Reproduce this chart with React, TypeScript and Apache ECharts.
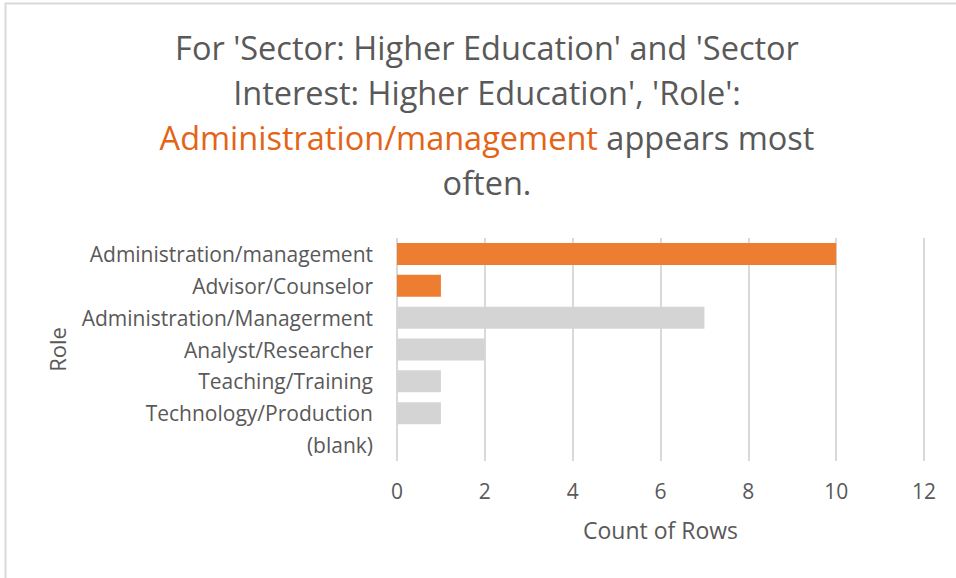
import React, { useEffect, useRef } from "react";
import * as echarts from "echarts";

const categories = [
  "Administration/management",
  "Advisor/Counselor",
  "Administration/Managerment",
  "Analyst/Researcher",
  "Teaching/Training",
  "Technology/Production",
  "(blank)",
];
const counts = [10, 1, 7, 2, 1, 1, 0];
const highlighted = [true, true, false, false, false, false, false];
const titleLines = [
  "For 'Sector: Higher Education' and 'Sector",
  "Interest: Higher Education', 'Role':",
  "{o|Administration/management} appears most",
  "often.",
];
const xAxisName = "Count of Rows";
const yAxisName = "Role";

const FONT = "Open Sans";
const GREY_TEXT = "#595959";
const ORANGE = "#ED7D31";
const ORANGE_TEXT = "#E46417";
const GREY_BAR = "#D4D4D4";

export default function App() {
  const ref = useRef<HTMLDivElement>(null);
  useEffect(() => {
    document.body.style.margin = "0";
    const chart = echarts.init(ref.current!, null, { renderer: "svg" });
    chart.setOption({
      animation: false,
      backgroundColor: "#ffffff",
      title: {
        text: titleLines.join("\n"),
        left: 482,
        top: 20,
        textAlign: "center",
        textStyle: {
          fontFamily: FONT,
          fontSize: 32.5,
          fontWeight: "normal",
          color: GREY_TEXT,
          lineHeight: 45,
          rich: {
            o: {
              fontFamily: FONT,
              fontSize: 32.5,
              color: ORANGE_TEXT,
              lineHeight: 45,
            },
          },
        },
      },
      graphic: [
        {
          type: "polyline",
          shape: { points: [[5.5, 600], [5.5, 3.5], [1000, 3.5]] },
          style: { stroke: "#D9D9D9", lineWidth: 2, fill: "none" },
          silent: true,
        },
      ],
      grid: { left: 397, right: 32, top: 238, height: 223, containLabel: false },
      xAxis: {
        type: "value",
        min: 0,
        max: 12,
        interval: 2,
        name: xAxisName,
        nameLocation: "middle",
        nameGap: 57,
        nameTextStyle: { fontFamily: FONT, fontSize: 23, color: GREY_TEXT },
        axisLine: { show: false },
        axisTick: { show: false },
        axisLabel: { fontFamily: FONT, fontSize: 21, color: GREY_TEXT, margin: 19 },
        splitLine: { show: true, lineStyle: { color: "#D9D9D9", width: 2 } },
      },
      yAxis: {
        type: "category",
        inverse: true,
        data: categories,
        name: yAxisName,
        nameLocation: "middle",
        nameGap: 329,
        nameRotate: 90,
        nameTextStyle: { fontFamily: FONT, fontSize: 22, color: GREY_TEXT },
        axisLine: { show: false },
        axisTick: { show: false },
        axisLabel: { fontFamily: FONT, fontSize: 21, color: GREY_TEXT, margin: 24 },
        splitLine: { show: false },
      },
      series: [
        {
          type: "bar",
          barWidth: 22,
          data: counts.map((v, i) => ({
            value: v,
            itemStyle: { color: highlighted[i] ? ORANGE : GREY_BAR },
          })),
        },
      ],
    });
    return () => chart.dispose();
  }, []);
  return (
    <div
      ref={ref}
      style={{ position: "absolute", left: 0, top: 0, width: 956, height: 578 }}
    />
  );
}
